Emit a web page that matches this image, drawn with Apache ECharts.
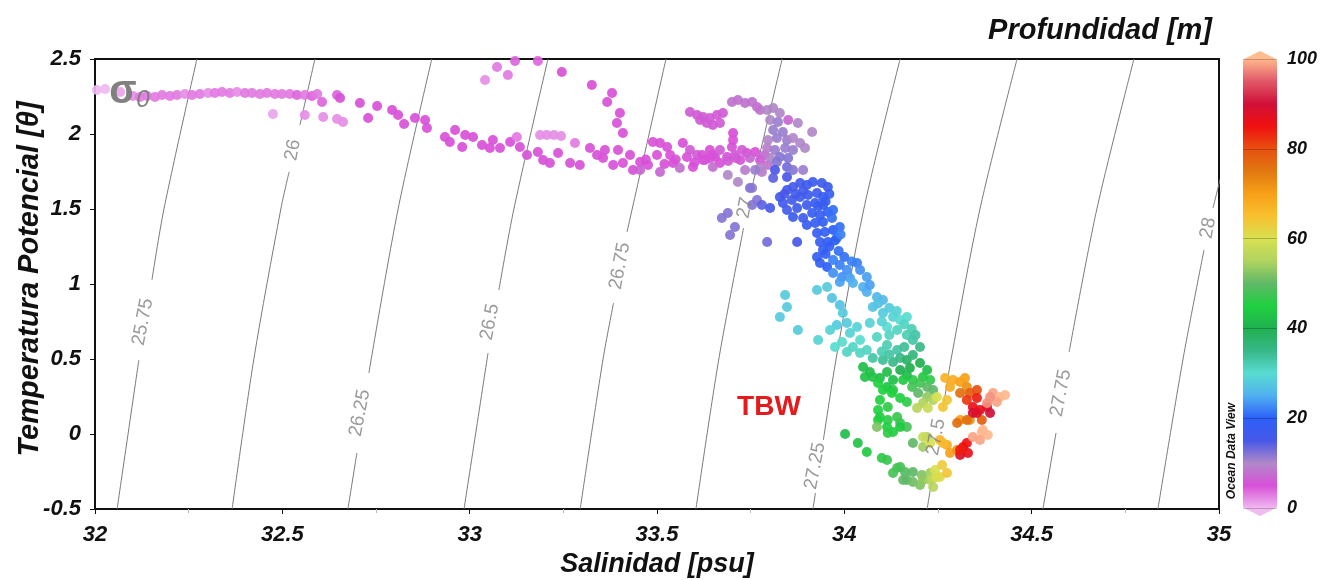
<!DOCTYPE html>
<html>
<head>
<meta charset="utf-8">
<title>Diagrama T-S</title>
<script src="https://cdn.jsdelivr.net/npm/echarts@6/dist/echarts.min.js"></script>
<style>
html, body { margin: 0; padding: 0; background: #fff; }
#chart { width: 1323px; height: 580px; }
</style>
</head>
<body>
<div id="chart"></div>
<script>
const FONT = "'Liberation Sans', Arial, sans-serif";

// [salinidad, temperatura potencial, profundidad]
const surfaceTrail = [
  [32.005, 2.293, 0], [32.027, 2.30, 0], [32.067, 2.28, 1], [32.101, 2.253, 2], [32.120, 2.247, 3],
  [32.139, 2.253, 3], [32.160, 2.247, 3], [32.179, 2.26, 3], [32.200, 2.253, 3], [32.219, 2.26, 3],
  [32.240, 2.267, 2], [32.259, 2.26, 3], [32.280, 2.267, 3], [32.302, 2.273, 2], [32.320, 2.273, 3],
  [32.339, 2.28, 3], [32.360, 2.273, 3], [32.379, 2.28, 2], [32.400, 2.273, 3], [32.419, 2.273, 3],
  [32.440, 2.267, 3], [32.459, 2.273, 3], [32.480, 2.267, 3], [32.499, 2.267, 3], [32.520, 2.267, 3],
  [32.539, 2.26, 4], [32.560, 2.26, 3], [32.579, 2.253, 4], [32.593, 2.267, 3],
  [32.475, 2.133, 1], [32.560, 2.127, 2], [32.609, 2.113, 2], [32.646, 2.10, 2], [32.662, 2.08, 2],
  [32.606, 2.213, 4], [32.646, 2.26, 4], [32.654, 2.24, 5], [32.707, 2.207, 5], [32.729, 2.107, 5],
  [32.753, 2.187, 5], [32.793, 2.16, 5], [32.809, 2.127, 5], [32.825, 2.067, 5], [32.854, 2.107, 5],
  [32.881, 2.093, 5], [32.886, 2.04, 5]
];

const midBand = [
  [32.934, 1.98, 5], [32.947, 1.947, 5], [32.961, 2.027, 5], [32.980, 1.913, 5], [32.988, 1.993, 5],
  [33.009, 1.98, 5], [33.033, 1.927, 5], [33.054, 1.907, 5], [33.062, 1.96, 5], [33.081, 1.907, 5],
  [33.108, 1.947, 5], [33.126, 1.98, 3], [33.134, 1.913, 5], [33.153, 1.86, 5], [33.182, 1.88, 5],
  [33.196, 1.827, 5], [33.214, 1.807, 5], [33.236, 1.873, 5], [33.268, 1.807, 5], [33.281, 1.94, 3],
  [33.294, 1.793, 5], [33.321, 1.907, 5], [33.340, 1.86, 5], [33.356, 1.84, 5], [33.383, 1.793, 5],
  [33.409, 1.807, 5], [33.436, 1.76, 5], [33.455, 1.813, 5], [33.476, 1.793, 5], [33.489, 1.947, 5],
  [33.508, 1.94, 5], [33.527, 1.913, 5], [33.535, 1.86, 5], [33.543, 1.807, 5], [33.569, 1.94, 5],
  [33.580, 1.847, 5], [33.596, 1.78, 5], [33.623, 1.827, 5], [33.641, 1.893, 5], [33.655, 1.847, 5],
  [33.668, 1.807, 5], [33.687, 1.847, 5], [33.700, 1.913, 5], [33.703, 2.007, 5], [33.703, 1.96, 5],
  [33.722, 1.827, 5], [33.740, 1.873, 5], [33.762, 1.88, 5], [33.775, 1.827, 6],
  [33.188, 1.993, 2], [33.206, 1.993, 2], [33.225, 1.993, 2], [33.244, 1.987, 2],
  [33.041, 2.36, 2], [33.073, 2.447, 3], [33.102, 2.393, 3], [33.121, 2.487, 4], [33.182, 2.487, 4],
  [33.246, 2.413, 5], [33.326, 2.327, 5], [33.380, 2.273, 5], [33.367, 2.213, 5], [33.401, 2.14, 5],
  [33.393, 2.073, 5], [33.409, 2.007, 5],
  [33.455, 1.76, 7], [33.508, 1.747, 7], [33.561, 1.773, 8], [33.649, 1.78, 8], [33.689, 1.727, 10],
  [33.716, 1.68, 10], [33.735, 1.76, 9], [33.754, 1.64, 11], [33.780, 1.747, 9],
  [33.588, 1.893, 6], [33.607, 1.86, 6], [33.628, 1.827, 6], [33.649, 1.86, 5], [33.668, 1.893, 6],
  [33.708, 1.86, 6], [33.727, 1.893, 6], [33.748, 1.84, 7], [33.788, 1.86, 7], [33.796, 1.793, 8],
  [33.428, 1.86, 5], [33.396, 1.893, 5], [33.361, 1.893, 5],
  [33.600, 1.81, 5], [33.620, 1.86, 5], [33.640, 1.84, 5], [33.690, 1.82, 6], [33.710, 1.84, 6],
  [33.550, 1.83, 5], [33.520, 1.80, 5], [33.470, 1.83, 5], [33.500, 1.86, 5]
];

const upperClusters = [
  [33.588, 2.147, 6], [33.607, 2.127, 6], [33.623, 2.113, 6], [33.641, 2.107, 6], [33.660, 2.127, 6],
  [33.676, 2.14, 6], [33.633, 2.073, 6], [33.649, 2.06, 6], [33.668, 2.073, 6], [33.615, 2.093, 6],
  [33.700, 2.213, 8], [33.716, 2.227, 8], [33.735, 2.207, 8], [33.754, 2.213, 8], [33.767, 2.18, 8],
  [33.775, 2.16, 8]
];

const grayColumn = [
  [33.794, 2.16, 10], [33.810, 2.173, 10], [33.828, 2.14, 10], [33.802, 2.093, 10], [33.823, 2.08, 11],
  [33.850, 2.093, 7], [33.810, 2.027, 11], [33.836, 2.013, 11], [33.796, 1.96, 10], [33.820, 1.973, 11],
  [33.847, 1.96, 11], [33.863, 1.973, 10], [33.882, 1.94, 10], [33.895, 1.907, 10], [33.794, 1.907, 9],
  [33.815, 1.893, 11], [33.842, 1.907, 11], [33.863, 1.893, 11], [33.828, 1.847, 12], [33.850, 1.84, 12],
  [33.802, 1.84, 10], [33.820, 1.813, 12], [33.876, 2.073, 10], [33.914, 2.013, 10], [33.847, 1.78, 13],
  [33.863, 1.76, 12], [33.890, 1.76, 11], [33.775, 1.773, 10], [33.762, 1.76, 11]
];

const blueBand = [
  [33.815, 1.76, 15], [33.810, 1.707, 14], [33.847, 1.713, 15], [33.748, 1.64, 12], [33.767, 1.56, 12],
  [33.754, 1.527, 12], [33.780, 1.527, 14], [33.802, 1.507, 15], [33.689, 1.473, 12], [33.673, 1.44, 12],
  [33.708, 1.38, 12], [33.695, 1.327, 12], [33.794, 1.28, 13], [33.874, 1.28, 15],
  [33.828, 1.58, 16], [33.847, 1.627, 16], [33.863, 1.647, 16], [33.882, 1.673, 16], [33.900, 1.66, 17],
  [33.916, 1.68, 17], [33.940, 1.673, 17], [33.956, 1.647, 17], [33.836, 1.54, 16], [33.860, 1.56, 16],
  [33.882, 1.58, 17], [33.903, 1.593, 17], [33.927, 1.607, 17], [33.943, 1.58, 18], [33.847, 1.493, 16],
  [33.874, 1.507, 17], [33.900, 1.527, 17], [33.922, 1.54, 18], [33.943, 1.527, 18], [33.863, 1.447, 17],
  [33.890, 1.44, 17], [33.914, 1.473, 18], [33.935, 1.46, 18], [33.956, 1.48, 19], [33.900, 1.393, 18],
  [33.922, 1.407, 18], [33.943, 1.413, 19], [33.967, 1.44, 21], [33.970, 1.493, 21], [33.927, 1.34, 18],
  [33.948, 1.347, 19], [33.970, 1.36, 20], [33.988, 1.38, 21], [33.935, 1.28, 18], [33.956, 1.28, 19],
  [33.980, 1.307, 21], [33.943, 1.227, 18], [33.927, 1.18, 18], [33.935, 1.14, 19], [33.954, 1.113, 20],
  [33.970, 1.16, 22], [33.988, 1.127, 22], [34.007, 1.093, 23], [33.970, 1.073, 23], [33.994, 1.047, 23],
  [34.015, 1.04, 24], [34.034, 1.14, 22], [34.042, 1.093, 23], [34.060, 1.047, 24], [34.023, 1.007, 25],
  [34.050, 0.98, 25], [33.988, 1.013, 24], [34.060, 0.947, 25], [34.087, 0.913, 26], [34.103, 0.893, 26],
  [34.068, 0.993, 24],
  [33.960, 1.25, 19], [33.985, 1.22, 21], [34.000, 1.18, 21], [34.020, 1.15, 22], [33.950, 1.20, 19],
  [33.975, 1.29, 20], [33.990, 1.33, 22], [33.930, 1.52, 18], [33.950, 1.55, 18], [33.960, 1.60, 18],
  [33.890, 1.62, 16], [33.870, 1.60, 16], [33.840, 1.60, 15]
];

const aquaTeal = [
  [33.954, 0.98, 28], [33.842, 0.927, 28], [33.847, 0.847, 28], [33.828, 0.78, 28], [33.876, 0.693, 28],
  [33.930, 0.627, 29], [33.927, 0.96, 28], [33.967, 0.907, 27], [33.988, 0.86, 27], [33.996, 0.807, 28],
  [33.980, 0.727, 28], [33.962, 0.693, 29], [34.007, 0.74, 28], [34.015, 0.673, 29], [33.994, 0.613, 30],
  [33.975, 0.58, 30], [34.034, 0.713, 29], [34.042, 0.627, 30], [34.023, 0.58, 31], [34.060, 0.56, 31],
  [34.042, 0.54, 31], [34.007, 0.547, 31],
  [34.076, 0.847, 27], [34.103, 0.807, 28], [34.130, 0.78, 29], [34.149, 0.76, 30], [34.167, 0.78, 30],
  [34.114, 0.713, 30], [34.141, 0.693, 31], [34.167, 0.66, 32], [34.183, 0.627, 33], [34.202, 0.58, 35],
  [34.068, 0.74, 29], [34.087, 0.647, 31], [34.114, 0.593, 32], [34.141, 0.56, 33], [34.076, 0.507, 33],
  [34.103, 0.493, 34], [34.130, 0.48, 35], [34.149, 0.507, 35], [34.167, 0.493, 38], [34.183, 0.527, 36],
  [34.090, 0.87, 27], [34.120, 0.84, 28], [34.140, 0.82, 29], [34.160, 0.73, 31], [34.180, 0.70, 32],
  [34.190, 0.66, 33], [34.100, 0.75, 29], [34.120, 0.66, 31], [34.100, 0.55, 32], [34.120, 0.53, 33],
  [34.160, 0.58, 34]
];

const greenBand = [
  [34.202, 0.473, 40], [34.221, 0.427, 42], [34.175, 0.44, 40], [34.210, 0.38, 44], [34.229, 0.36, 46],
  [34.237, 0.293, 50], [34.221, 0.313, 50], [34.202, 0.34, 48], [34.183, 0.36, 46], [34.167, 0.393, 42],
  [34.149, 0.427, 40], [34.157, 0.36, 44], [34.181, 0.313, 48], [34.197, 0.273, 50], [34.221, 0.247, 53],
  [34.237, 0.227, 55], [34.210, 0.207, 55], [34.223, 0.173, 58], [34.194, 0.173, 56], [34.149, 0.24, 45],
  [34.167, 0.213, 46], [34.130, 0.293, 44], [34.114, 0.313, 43], [34.095, 0.373, 42], [34.130, 0.36, 42],
  [34.050, 0.447, 42], [34.068, 0.413, 42], [34.055, 0.38, 43], [34.076, 0.38, 43], [34.090, 0.34, 45],
  [34.114, 0.413, 42], [34.103, 0.293, 45], [34.127, 0.273, 45], [34.095, 0.227, 45], [34.116, 0.18, 46],
  [34.090, 0.16, 45], [34.095, 0.113, 45], [34.116, 0.093, 46], [34.141, 0.113, 47], [34.149, 0.073, 47],
  [34.167, 0.047, 48], [34.114, 0.047, 45], [34.130, 0.013, 45], [34.116, 0.007, 46], [34.090, 0.093, 45],
  [34.087, 0.047, 52], [34.002, 0.00, 42], [34.036, -0.06, 43], [34.060, -0.12, 44], [34.183, -0.06, 50],
  [34.149, 0.047, 44], [34.210, -0.087, 54], [34.221, -0.02, 56]
];

const bottomArc = [
  [34.100, -0.16, 46], [34.114, -0.173, 47], [34.141, -0.227, 48], [34.130, -0.26, 48], [34.149, -0.22, 48],
  [34.162, -0.253, 49], [34.167, -0.307, 50], [34.183, -0.253, 50], [34.183, -0.32, 51], [34.202, -0.34, 52],
  [34.207, -0.273, 52], [34.210, -0.307, 53], [34.229, -0.26, 54], [34.229, -0.307, 55], [34.237, -0.353, 56],
  [34.237, -0.293, 57], [34.247, -0.287, 60], [34.242, -0.24, 60], [34.255, -0.287, 61], [34.261, -0.207, 63],
  [34.274, -0.26, 64], [34.157, -0.307, 50]
];

const warmCore = [
  [34.210, -0.02, 58], [34.229, -0.06, 60], [34.255, -0.04, 66], [34.274, -0.073, 68], [34.282, -0.127, 70],
  [34.301, -0.107, 72], [34.263, -0.06, 66], [34.317, -0.087, 85], [34.330, -0.127, 86], [34.309, -0.14, 88],
  [34.309, -0.107, 84], [34.327, -0.06, 85],
  [34.343, -0.02, 99], [34.367, 0.013, 100], [34.383, -0.007, 100], [34.362, -0.04, 99], [34.370, 0.027, 100],
  [34.309, 0.093, 70], [34.335, 0.093, 72], [34.301, 0.073, 76], [34.269, 0.373, 67], [34.322, 0.373, 70],
  [34.290, 0.36, 68], [34.309, 0.347, 70], [34.282, 0.313, 68], [34.327, 0.313, 72], [34.309, 0.273, 76],
  [34.335, 0.273, 78], [34.354, 0.293, 80], [34.327, 0.227, 82], [34.354, 0.24, 84], [34.343, 0.18, 86],
  [34.362, 0.16, 86], [34.381, 0.18, 87], [34.343, 0.14, 90], [34.327, 0.093, 76], [34.263, 0.18, 64],
  [34.274, 0.227, 64], [34.247, 0.247, 60], [34.367, 0.093, 78], [34.389, 0.14, 90], [34.354, 0.14, 88],
  [34.397, 0.273, 99], [34.415, 0.247, 100], [34.429, 0.26, 100], [34.407, 0.213, 99], [34.389, 0.247, 98],
  [34.381, 0.207, 98]
];

// isopicnas sigma-0: tramos, cortados donde va la etiqueta
const isoLevels = ['25.75', '26', '26.25', '26.5', '26.75', '27', '27.25', '27.5', '27.75', '28'];
const isoSegments = [
  [[[32.059, -0.5], [32.117, 0.493]], [[32.152, 1.027], [32.184, 1.5], [32.272, 2.5]]],
  [[[32.366, -0.5], [32.424, 0.5], [32.496, 1.5], [32.518, 1.747]], [[32.547, 2.06], [32.587, 2.5]]],
  [[[32.675, -0.5], [32.699, -0.127]], [[32.731, 0.407], [32.809, 1.5], [32.899, 2.5]]],
  [[[32.985, -0.5], [33.049, 0.54]], [[33.078, 0.96], [33.118, 1.5], [33.209, 2.5]]],
  [[[33.295, -0.5], [33.356, 0.5], [33.384, 0.873]], [[33.420, 1.347], [33.524, 2.5]]],
  [[[33.604, -0.5], [33.665, 0.5], [33.731, 1.373]], [[33.752, 1.627], [33.834, 2.5]]],
  [[[33.916, -0.5], [33.923, -0.393]], [[33.944, -0.04], [33.978, 0.5], [34.052, 1.5], [34.149, 2.5]]],
  [[[34.221, -0.5], [34.237, -0.253]], [[34.263, 0.16], [34.285, 0.5], [34.362, 1.5], [34.461, 2.5]]],
  [[[34.530, -0.5], [34.565, 0.007]], [[34.600, 0.547], [34.674, 1.5], [34.773, 2.5]]],
  [[[34.837, -0.5], [34.904, 0.5], [34.960, 1.227]], [[34.984, 1.507], [35.083, 2.5]]]
];
const isoLabelPos = [
  [32.128, 0.747], [32.528, 1.893], [32.707, 0.14], [33.054, 0.747], [33.401, 1.12],
  [33.735, 1.507], [33.922, -0.213], [34.245, -0.02], [34.578, 0.273], [34.971, 1.373]
];

const depthColors = [
  '#f0b8f0', '#d850d8', '#b088c8', '#4858e8', '#2c60f8', '#50b0f0', '#58dcd0',
  '#38b888', '#20b050', '#20d040', '#60b868', '#b0d460', '#d8e050', '#f8c030',
  '#f8a018', '#e07810', '#e85010', '#f01010', '#d01038', '#e05868', '#ffb88c'
];

const points = [].concat(surfaceTrail, midBand, upperClusters, grayColumn, blueBand,
  aquaTeal, greenBand, bottomArc, warmCore);

const chart = echarts.init(document.getElementById('chart'));

const isoSeries = [];
isoLevels.forEach((lvl, i) => {
  isoSegments[i].forEach(seg => {
    isoSeries.push({
      type: 'line',
      data: seg,
      symbol: 'none',
      smooth: 0.3,
      silent: true,
      z: 1,
      lineStyle: { color: '#7a7a7a', width: 1 }
    });
  });
});

const labelStyle = { fontFamily: FONT, fontWeight: 'bold', fontStyle: 'italic', color: '#111' };

const option = {
  backgroundColor: '#fff',
  animation: false,
  title: {
    text: 'Profundidad [m]',
    right: 111,
    top: 16,
    padding: 0,
    textStyle: { fontFamily: FONT, fontWeight: 'bold', fontStyle: 'italic', fontSize: 29, color: '#111' }
  },
  grid: [
    { left: 95, top: 59, width: 1124, height: 450, show: true, borderColor: '#111', borderWidth: 2, outerBoundsMode: 'none' },
    { left: 1243, top: 59, width: 34, height: 449, outerBoundsMode: 'none' }
  ],
  xAxis: [
    {
      type: 'value', min: 32, max: 35, interval: 0.5,
      name: 'Salinidad [psu]', nameLocation: 'middle', nameGap: 41,
      nameTextStyle: { fontFamily: FONT, fontWeight: 'bold', fontStyle: 'italic', fontSize: 27, color: '#111' },
      axisLine: { onZero: false, lineStyle: { color: '#111', width: 2 } },
      axisTick: { length: 5, lineStyle: { color: '#111' } },
      minorTick: { show: true, splitNumber: 2, length: 4, lineStyle: { color: '#bbb' } },
      axisLabel: Object.assign({ fontSize: 22, margin: 15 }, labelStyle),
      splitLine: { show: false }
    },
    { gridIndex: 1, type: 'value', show: false, min: 0, max: 1 }
  ],
  yAxis: [
    {
      type: 'value', min: -0.5, max: 2.5, interval: 0.5,
      axisLine: { onZero: false, lineStyle: { color: '#111', width: 2 } },
      axisTick: { length: 5, lineStyle: { color: '#111' } },
      axisLabel: Object.assign({ fontSize: 22, margin: 14 }, labelStyle),
      splitLine: { show: false }
    },
    {
      gridIndex: 1, type: 'value', min: 0, max: 100, interval: 20, position: 'right', z: 10,
      axisLine: { show: false },
      axisTick: { show: false },
      axisLabel: Object.assign({ fontSize: 18, margin: 10 }, labelStyle),
      splitLine: { show: true, lineStyle: { color: 'rgba(0,0,0,0.22)', width: 1 } }
    }
  ],
  visualMap: {
    type: 'continuous',
    min: 0, max: 100,
    dimension: 2,
    seriesIndex: 0,
    calculable: false,
    hoverLink: false,
    left: 1243, top: 59,
    itemWidth: 34, itemHeight: 449,
    padding: 0,
    inRange: { color: depthColors }
  },
  graphic: [
    { type: 'polygon', shape: { points: [[1243, 59.5], [1260, 51], [1277, 59.5]] }, style: { fill: '#ffbc8e' }, silent: true },
    { type: 'polygon', shape: { points: [[1243, 507.5], [1260, 516], [1277, 507.5]] }, style: { fill: '#f0bcf0' }, silent: true },
    { type: 'text', x: 30, y: 279, rotation: Math.PI / 2, silent: true, z: 10,
      style: { text: 'Temperatura Potencial [θ]', font: 'italic bold 29px ' + FONT, fill: '#111', align: 'center', verticalAlign: 'middle' } },
    { type: 'text', x: 123, y: 92, silent: true, z: 10,
      style: { text: 'σ', font: 'bold 40px ' + FONT, fill: '#808080', align: 'center', verticalAlign: 'middle' } },
    { type: 'text', x: 143, y: 100, silent: true, z: 10,
      style: { text: '0', font: 'italic 24px ' + FONT, fill: '#808080', align: 'center', verticalAlign: 'middle' } },
    { type: 'text', x: 769, y: 407, silent: true, z: 10,
      style: { text: 'TBW', font: 'bold 28px ' + FONT, fill: '#e41a1c', align: 'center', verticalAlign: 'middle' } },
    { type: 'text', x: 1232, y: 451, rotation: Math.PI / 2, silent: true, z: 10,
      style: { text: 'Ocean Data View', font: 'italic bold 12px ' + FONT, fill: '#111', align: 'center', verticalAlign: 'middle' } }
  ],
  series: [
    {
      type: 'scatter',
      data: points,
      symbolSize: 10,
      z: 3,
      silent: true,
      itemStyle: { opacity: 0.92 }
    }
  ].concat(isoSeries, [
    {
      type: 'scatter',
      data: isoLevels.map((lvl, i) => ({ name: lvl, value: isoLabelPos[i] })),
      symbolSize: 0,
      silent: true,
      z: 6,
      label: {
        show: true, position: 'inside', formatter: '{b}', rotate: 79,
        fontFamily: FONT, fontSize: 19, color: '#7f7f7f'
      }
    }
  ])
};

chart.setOption(option);
</script>
</body>
</html>
